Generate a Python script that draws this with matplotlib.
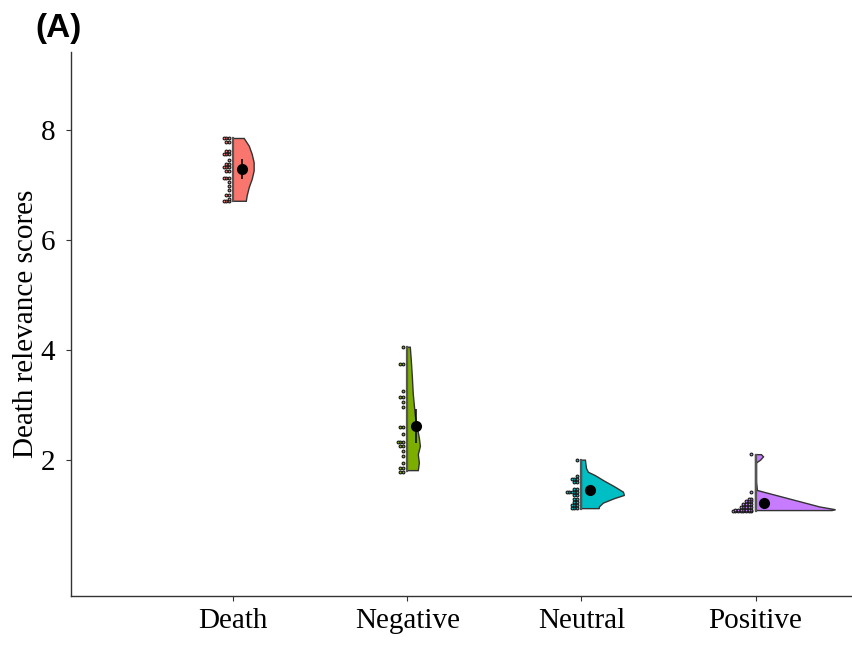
import matplotlib
matplotlib.use("Agg")
import matplotlib.pyplot as plt

groups = ["Death", "Negative", "Neutral", "Positive"]
colors = ["#F8766D", "#7CAE00", "#00BFC4", "#C77CFF"]

# half-violin outlines: score level and half width (axis units)
death_y = [6.70, 6.80, 6.95, 7.10, 7.25, 7.40, 7.55, 7.70, 7.84]
death_w = [0.075, 0.080, 0.092, 0.109, 0.120, 0.120, 0.109, 0.092, 0.063]
neg_y = [1.81, 1.95, 2.10, 2.25, 2.40, 2.60, 2.80, 3.00, 3.20, 3.50, 3.80, 4.05]
neg_w = [0.063, 0.069, 0.063, 0.075, 0.069, 0.057, 0.046, 0.040, 0.034, 0.029, 0.023, 0.017]
neu_y = [1.12, 1.15, 1.22, 1.30, 1.36, 1.42, 1.52, 1.62, 1.72, 1.78, 1.85, 2.00]
neu_w = [0.103, 0.103, 0.126, 0.189, 0.247, 0.241, 0.189, 0.132, 0.080, 0.040, 0.029, 0.023]
pos_y = [1.085, 1.10, 1.15, 1.25, 1.35, 1.42, 1.45, 1.60, 1.95, 2.00, 2.06, 2.10]
pos_w = [0.440, 0.460, 0.370, 0.250, 0.130, 0.046, 0.011, 0.006, 0.006, 0.029, 0.046, 0.034]

# raw scores as (value, count)
death_pts = [(6.70, 3), (6.75, 1), (6.82, 2), (6.90, 1), (6.98, 1), (7.05, 1), (7.12, 3),
             (7.25, 2), (7.32, 3), (7.38, 2), (7.45, 1), (7.55, 3), (7.62, 2), (7.78, 2), (7.84, 3)]
neg_pts = [(1.79, 2), (1.85, 2), (1.94, 1), (2.08, 1), (2.17, 1), (2.26, 2), (2.33, 3), (2.48, 1),
           (2.60, 2), (2.97, 1), (3.06, 1), (3.15, 2), (3.26, 1), (3.75, 2), (4.05, 1)]
neu_pts = [(1.13, 3), (1.18, 3), (1.24, 2), (1.30, 2), (1.36, 2), (1.42, 5), (1.48, 2),
           (1.60, 2), (1.66, 3), (1.72, 1), (2.00, 1)]
pos_pts = [(1.07, 8), (1.10, 7), (1.15, 5), (1.20, 4), (1.25, 3), (1.30, 2), (1.43, 1), (2.12, 1)]

means = [7.28, 2.62, 1.45, 1.23]
errs = [0.18, 0.30, 0.06, 0.05]

profiles = [(death_y, death_w), (neg_y, neg_w), (neu_y, neu_w), (pos_y, pos_w)]
points = [death_pts, neg_pts, neu_pts, pos_pts]

plt.rcParams["font.family"] = ["Liberation Serif", "DejaVu Serif"]

fig = plt.figure(figsize=(8.53, 6.46), dpi=100)
ax = fig.add_axes([71 / 853, 1 - 596 / 646, 1 - 71 / 853, (596 - 52) / 646])

for i, (g, c) in enumerate(zip(groups, colors)):
    x0 = i + 1
    ys, ws = profiles[i]
    px = [x0] + [x0 + w for w in ws] + [x0]
    py = [ys[0]] + ys + [ys[-1]]
    ax.fill(px, py, facecolor=c, edgecolor="#333333", linewidth=1.0, zorder=2)
    ax.plot([x0, x0], [ys[0], ys[-1]], color="#555555", lw=1.6, zorder=3)

    # stacked dots to the left of each half violin
    for v, n in points[i]:
        for k in range(n):
            ax.plot(x0 - 0.025 - k * 0.015, v, "o", ms=2.0, mfc=c, mec="#1a1a1a",
                    mew=0.8, zorder=3)

    ax.errorbar(x0 + 0.05, means[i], yerr=errs[i], fmt="o", color="black",
                ms=7, elinewidth=1.1, capsize=0, zorder=4)

ax.set_xlim(0.068, 4.56)
ax.set_ylim(-0.466, 9.41)
ax.set_xticks([1, 2, 3, 4])
ax.set_xticklabels(groups)
ax.set_yticks([2, 4, 6, 8])
ax.tick_params(axis="both", labelsize=21, length=3.5, width=0.8, color="#333333")
ax.tick_params(axis="y", pad=8)
ax.tick_params(axis="x", pad=5)
ax.set_ylabel("Death relevance scores", fontsize=21, labelpad=1)

for s in ["top", "right"]:
    ax.spines[s].set_visible(False)
for s in ["left", "bottom"]:
    ax.spines[s].set_color("#333333")
    ax.spines[s].set_linewidth(1.0)

fig.text(59 / 853, 1 - 28 / 646, "(A)", fontsize=24, fontweight="bold",
         family=["Liberation Sans", "DejaVu Sans"], ha="center", va="center")

fig.savefig("out.png", dpi=100)
